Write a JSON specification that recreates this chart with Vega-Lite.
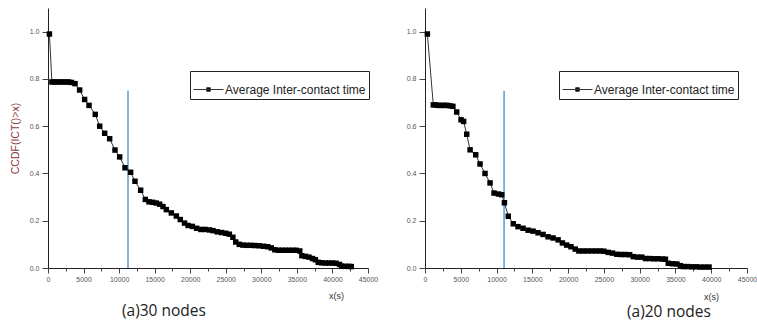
{
  "$schema": "https://vega.github.io/schema/vega-lite/v6.json",
  "background": "white",
  "padding": {"left": 10, "top": 8, "right": 0, "bottom": 0},
  "spacing": 28,
  "config": {
    "view": {"stroke": null},
    "axis": {
      "grid": false,
      "domainColor": "#222",
      "domainWidth": 1,
      "tickColor": "#444",
      "labelFont": "Liberation Sans",
      "labelFontSize": 7,
      "labelColor": "#555",
      "titleFont": "Liberation Sans",
      "titleFontWeight": "normal",
      "labelFlush": false,
      "labelOverlap": false
    },
    "legend": {
      "orient": "none",
      "strokeColor": "#222",
      "fillColor": "white",
      "padding": 3,
      "labelFont": "Liberation Sans",
      "labelFontSize": 12,
      "labelColor": "#222",
      "symbolType": "M-1,0H1M-0.12,-0.12H0.12V0.12H-0.12Z",
      "symbolSize": 900,
      "symbolStrokeColor": "#333",
      "symbolStrokeWidth": 1,
      "symbolFillColor": "black",
      "symbolOpacity": 1,
      "labelOffset": 1
    }
  },
  "datasets": {
    "nodes30": [
      {"x": 200, "y": 0.99}, {"x": 550, "y": 0.787}, {"x": 900, "y": 0.787}, {"x": 1300, "y": 0.787},
      {"x": 1700, "y": 0.787}, {"x": 2100, "y": 0.787}, {"x": 2500, "y": 0.787}, {"x": 2900, "y": 0.787},
      {"x": 3300, "y": 0.785}, {"x": 3800, "y": 0.78}, {"x": 4450, "y": 0.753}, {"x": 5150, "y": 0.713},
      {"x": 5770, "y": 0.688}, {"x": 6650, "y": 0.65}, {"x": 7270, "y": 0.6}, {"x": 7970, "y": 0.57},
      {"x": 8670, "y": 0.547}, {"x": 9420, "y": 0.499}, {"x": 10080, "y": 0.47}, {"x": 10830, "y": 0.424},
      {"x": 11620, "y": 0.405}, {"x": 12230, "y": 0.367}, {"x": 13030, "y": 0.329}, {"x": 13690, "y": 0.29},
      {"x": 14200, "y": 0.28}, {"x": 14700, "y": 0.278}, {"x": 15200, "y": 0.275}, {"x": 15700, "y": 0.27},
      {"x": 16170, "y": 0.26}, {"x": 16640, "y": 0.247}, {"x": 17340, "y": 0.233}, {"x": 18050, "y": 0.22},
      {"x": 18600, "y": 0.205}, {"x": 19200, "y": 0.19}, {"x": 19700, "y": 0.18}, {"x": 20300, "y": 0.176},
      {"x": 20900, "y": 0.168}, {"x": 21500, "y": 0.163}, {"x": 22100, "y": 0.163}, {"x": 22700, "y": 0.161},
      {"x": 23200, "y": 0.158}, {"x": 23800, "y": 0.153}, {"x": 24400, "y": 0.15}, {"x": 25000, "y": 0.147},
      {"x": 25500, "y": 0.143}, {"x": 26000, "y": 0.13}, {"x": 26400, "y": 0.11}, {"x": 26900, "y": 0.1},
      {"x": 27400, "y": 0.097}, {"x": 27900, "y": 0.096}, {"x": 28500, "y": 0.096}, {"x": 29100, "y": 0.095},
      {"x": 29700, "y": 0.094}, {"x": 30300, "y": 0.092}, {"x": 30900, "y": 0.09}, {"x": 31400, "y": 0.085},
      {"x": 31900, "y": 0.077}, {"x": 32400, "y": 0.075}, {"x": 32900, "y": 0.075}, {"x": 33400, "y": 0.075},
      {"x": 33900, "y": 0.075}, {"x": 34400, "y": 0.075}, {"x": 34900, "y": 0.075}, {"x": 35400, "y": 0.072},
      {"x": 35700, "y": 0.052}, {"x": 36200, "y": 0.049}, {"x": 36700, "y": 0.046}, {"x": 37200, "y": 0.04},
      {"x": 37600, "y": 0.035}, {"x": 38000, "y": 0.024}, {"x": 38500, "y": 0.022}, {"x": 39000, "y": 0.021},
      {"x": 39500, "y": 0.021}, {"x": 40000, "y": 0.021}, {"x": 40500, "y": 0.02}, {"x": 41000, "y": 0.015},
      {"x": 41300, "y": 0.008}, {"x": 41800, "y": 0.007}, {"x": 42300, "y": 0.007}, {"x": 42650, "y": 0.006}
    ],
    "nodes20": [
      {"x": 330, "y": 0.99}, {"x": 1160, "y": 0.69}, {"x": 1500, "y": 0.69}, {"x": 1900, "y": 0.688},
      {"x": 2300, "y": 0.688}, {"x": 2700, "y": 0.688}, {"x": 3100, "y": 0.688}, {"x": 3500, "y": 0.686},
      {"x": 3900, "y": 0.684}, {"x": 4430, "y": 0.66}, {"x": 5040, "y": 0.627}, {"x": 5400, "y": 0.62},
      {"x": 5830, "y": 0.566}, {"x": 6300, "y": 0.5}, {"x": 7090, "y": 0.479}, {"x": 7690, "y": 0.44},
      {"x": 8390, "y": 0.4}, {"x": 9090, "y": 0.36}, {"x": 9650, "y": 0.317}, {"x": 10260, "y": 0.313},
      {"x": 10720, "y": 0.31}, {"x": 11100, "y": 0.276}, {"x": 11640, "y": 0.219}, {"x": 12340, "y": 0.187},
      {"x": 13000, "y": 0.175}, {"x": 13700, "y": 0.168}, {"x": 14400, "y": 0.16}, {"x": 15100, "y": 0.156},
      {"x": 15800, "y": 0.149}, {"x": 16500, "y": 0.142}, {"x": 17200, "y": 0.132}, {"x": 17900, "y": 0.127},
      {"x": 18600, "y": 0.119}, {"x": 19200, "y": 0.106}, {"x": 19800, "y": 0.097}, {"x": 20400, "y": 0.09},
      {"x": 21000, "y": 0.08}, {"x": 21500, "y": 0.072}, {"x": 22100, "y": 0.072}, {"x": 22700, "y": 0.072},
      {"x": 23300, "y": 0.072}, {"x": 23900, "y": 0.072}, {"x": 24500, "y": 0.072}, {"x": 25000, "y": 0.071},
      {"x": 25600, "y": 0.066}, {"x": 26200, "y": 0.063}, {"x": 26800, "y": 0.058}, {"x": 27400, "y": 0.057},
      {"x": 28000, "y": 0.057}, {"x": 28600, "y": 0.056}, {"x": 29100, "y": 0.048}, {"x": 29700, "y": 0.046},
      {"x": 30300, "y": 0.046}, {"x": 30800, "y": 0.04}, {"x": 31400, "y": 0.04}, {"x": 32000, "y": 0.039},
      {"x": 32600, "y": 0.039}, {"x": 33200, "y": 0.038}, {"x": 33600, "y": 0.037}, {"x": 34000, "y": 0.02},
      {"x": 34600, "y": 0.018}, {"x": 35200, "y": 0.017}, {"x": 35700, "y": 0.01}, {"x": 36100, "y": 0.006},
      {"x": 36700, "y": 0.006}, {"x": 37300, "y": 0.005}, {"x": 37900, "y": 0.005}, {"x": 38500, "y": 0.004},
      {"x": 39100, "y": 0.004}, {"x": 39700, "y": 0.004}
    ],
    "cut30": [{"x": 11250, "y0": 0, "y1": 0.75}],
    "cut20": [{"x": 11050, "y0": 0, "y1": 0.75}]
  },
  "hconcat": [
    {
      "width": 320,
      "height": 260,
      "title": {"text": "(a)30 nodes", "orient": "bottom", "anchor": "start", "frame": "group", "dx": 74, "offset": 4, "fontSize": 15.5, "font": "Open Sans", "fontWeight": "normal", "color": "#222"},
      "resolve": {"axis": {"x": "independent"}},
      "layer": [
        {
          "data": {"name": "cut30"},
          "mark": {"type": "rule", "color": "#5b9bd5", "strokeWidth": 1.5},
          "encoding": {
            "x": {"field": "x", "type": "quantitative", "scale": {"domain": [0, 45000], "nice": false},
              "axis": {"orient": "bottom", "values": [0, 5000, 10000, 15000, 20000, 25000, 30000, 35000, 40000, 45000],
                "format": "d", "labelOverlap": false, "labelFlush": false,
                "tickSize": 5, "labelPadding": 2,
                "title": "x(s)", "titleX": 288, "titleY": 27, "titleAlign": "center", "titleBaseline": "middle", "titleFontSize": 9, "titleColor": "#333"}},
            "y": {"field": "y0", "type": "quantitative", "scale": {"domain": [0, 1.1], "nice": false},
              "axis": {"values": [0, 0.1, 0.2, 0.3, 0.4, 0.5, 0.6, 0.7, 0.8, 0.9, 1.0],
                "labelExpr": "round(datum.value * 10) % 2 == 1 ? '' : format(datum.value, '.1f')",
                "labelOverlap": false, "labelFlush": false,
                "tickSize": {"condition": {"test": "round(datum.value * 10) % 2 == 1", "value": 3}, "value": 6},
                "labelPadding": 3,
                "title": "CCDF(ICT()>x)", "titleFontSize": 10.5, "titleColor": "#8b3a3a", "titlePadding": 9}},
            "y2": {"field": "y1"}
          }
        },
        {
          "data": {"name": "nodes30"},
          "mark": {"type": "line", "color": "#333", "strokeWidth": 1},
          "encoding": {
            "x": {"field": "x", "type": "quantitative",
              "axis": {"orient": "bottom", "values": [2500, 7500, 12500, 17500, 22500, 27500, 32500, 37500, 42500],
                "labels": false, "domain": false, "tickSize": 3, "title": null}},
            "y": {"field": "y", "type": "quantitative"}
          }
        },
        {
          "data": {"name": "nodes30"},
          "mark": {"type": "point", "shape": "square", "filled": true, "size": 30, "opacity": 1},
          "encoding": {
            "x": {"field": "x", "type": "quantitative", "axis": null},
            "y": {"field": "y", "type": "quantitative"},
            "color": {"datum": "Average Inter-contact time", "type": "nominal", "scale": {"range": ["black"]},
              "legend": {"title": null, "legendX": 142, "legendY": 63}}
          }
        }
      ]
    },
    {
      "width": 322,
      "height": 260,
      "title": {"text": "(a)20 nodes", "orient": "bottom", "anchor": "start", "frame": "group", "dx": 202, "offset": 4, "fontSize": 15.5, "font": "Open Sans", "fontWeight": "normal", "color": "#222"},
      "resolve": {"axis": {"x": "independent"}},
      "layer": [
        {
          "data": {"name": "cut20"},
          "mark": {"type": "rule", "color": "#5b9bd5", "strokeWidth": 1.5},
          "encoding": {
            "x": {"field": "x", "type": "quantitative", "scale": {"domain": [0, 45000], "nice": false},
              "axis": {"orient": "bottom", "values": [0, 5000, 10000, 15000, 20000, 25000, 30000, 35000, 40000, 45000],
                "format": "d", "labelOverlap": false, "labelFlush": false,
                "tickSize": 5, "labelPadding": 2,
                "title": "x(s)", "titleX": 286, "titleY": 28, "titleAlign": "center", "titleBaseline": "middle", "titleFontSize": 9, "titleColor": "#333"}},
            "y": {"field": "y0", "type": "quantitative", "scale": {"domain": [0, 1.1], "nice": false},
              "axis": {"values": [0, 0.1, 0.2, 0.3, 0.4, 0.5, 0.6, 0.7, 0.8, 0.9, 1.0],
                "labelExpr": "round(datum.value * 10) % 2 == 1 ? '' : format(datum.value, '.1f')",
                "labelOverlap": false, "labelFlush": false,
                "tickSize": {"condition": {"test": "round(datum.value * 10) % 2 == 1", "value": 3}, "value": 6},
                "labelPadding": 3,
                "title": null}},
            "y2": {"field": "y1"}
          }
        },
        {
          "data": {"name": "nodes20"},
          "mark": {"type": "line", "color": "#333", "strokeWidth": 1},
          "encoding": {
            "x": {"field": "x", "type": "quantitative",
              "axis": {"orient": "bottom", "values": [2500, 7500, 12500, 17500, 22500, 27500, 32500, 37500, 42500],
                "labels": false, "domain": false, "tickSize": 3, "title": null}},
            "y": {"field": "y", "type": "quantitative"}
          }
        },
        {
          "data": {"name": "nodes20"},
          "mark": {"type": "point", "shape": "square", "filled": true, "size": 30, "opacity": 1},
          "encoding": {
            "x": {"field": "x", "type": "quantitative", "axis": null},
            "y": {"field": "y", "type": "quantitative"},
            "color": {"datum": "Average Inter-contact time", "type": "nominal", "scale": {"range": ["black"]},
              "legend": {"title": null, "legendX": 134, "legendY": 63}}
          }
        }
      ]
    }
  ],
  "resolve": {"legend": {"color": "independent"}}
}
